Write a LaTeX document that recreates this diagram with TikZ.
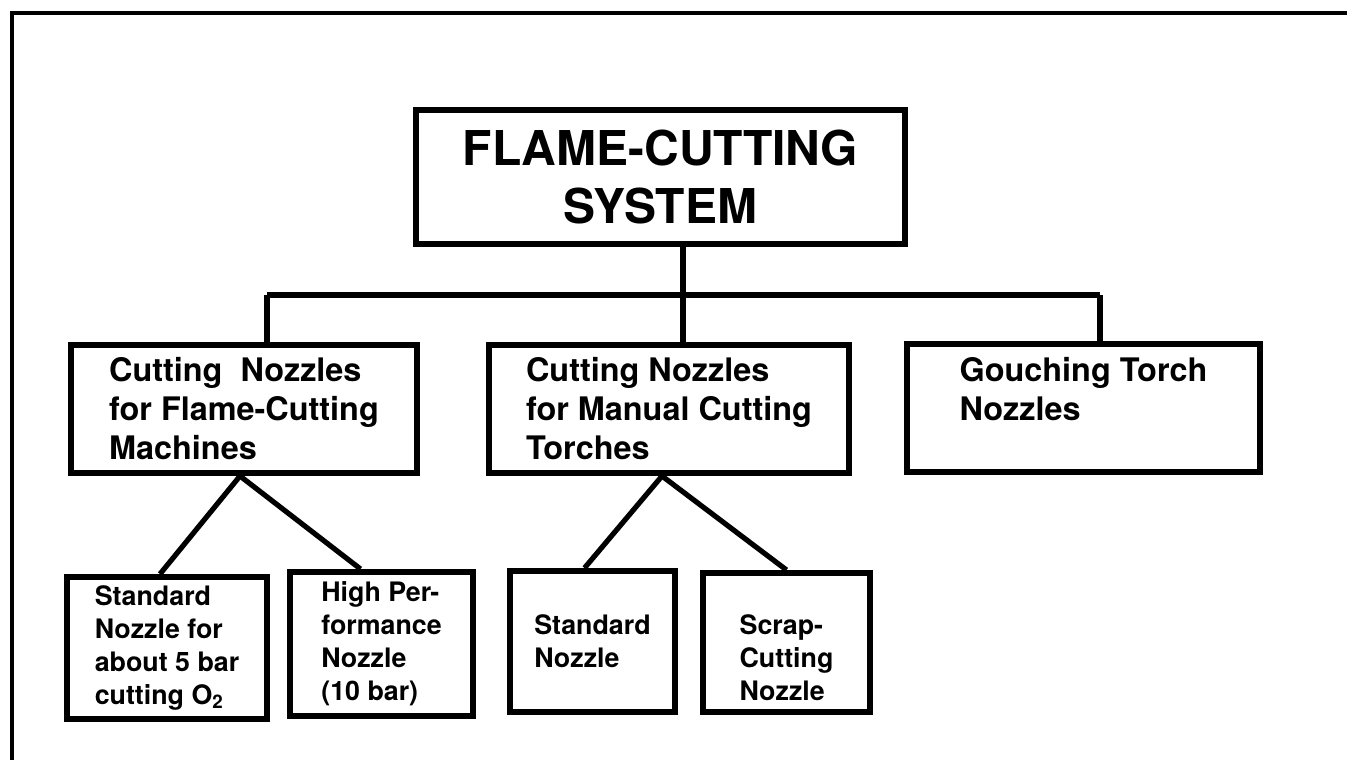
\documentclass[tikz,border=0pt]{standalone}
\usepackage{fontspec}
\setmainfont{TeX Gyre Heros}
\usepackage{tikz}
\usetikzlibrary{positioning,calc}

\begin{document}
\begin{tikzpicture}[
    x=0.5pt, y=-0.5pt,
    rootBox/.style={rectangle, draw=black, line width=3.2pt, align=center, font=\fontsize{24}{28.5}\selectfont\bfseries, inner sep=0pt},
    groupBox/.style={rectangle, draw=black, line width=3pt, align=left, font=\fontsize{16.2}{19.5}\selectfont\bfseries, inner sep=0pt, minimum height=64pt},
    nozzleBox/.style={rectangle, draw=black, line width=3pt, align=left, font=\fontsize{13.4}{16.5}\selectfont\bfseries, inner sep=0pt},
    linkStyle/.style={draw=black, line width=2.6pt},
    frameStyle/.style={draw=black, line width=2pt}
]
    \useasboundingbox (0,0) rectangle (1347,760);

    % outer frame (only top and left edges are visible)
    \draw[frameStyle] (1347,13) -| (12,760);

    \node[rootBox, minimum width=244.5pt, minimum height=67pt] (root) at (660.5,177) {
        FLAME-CUTTING\\
        SYSTEM
    };

    \node[groupBox, minimum width=173pt] (machNoz) at (244,409) {
        Cutting~~Nozzles\\
        for Flame-Cutting\\
        Machines
    };
    \node[groupBox, minimum width=180pt] (manNoz) at (669,409) {
        Cutting Nozzles\\
        for Manual Cutting\\
        Torches
    };
    \node[groupBox, minimum width=176.5pt] (gouNoz) at (1083.5,408) {
        Gouching Torch\\
        Nozzles\\
        \mbox{}
    };

    \node[nozzleBox, minimum width=100pt, minimum height=71pt] (stdFive) at (167,648) {
        Standard\\
        Nozzle for\\
        about 5 bar\\
        cutting O\textsubscript{2}
    };
    \node[nozzleBox, minimum width=91.5pt, minimum height=72pt] (highPerf) at (381.5,644) {
        High Per-\\
        formance\\
        Nozzle\\
        (10 bar)
    };
    \node[nozzleBox, minimum width=82.5pt, minimum height=70.5pt] (stdMan) at (592.5,641.5) {
        Standard\\
        Nozzle
    };
    \node[nozzleBox, minimum width=83.5pt, minimum height=69.5pt] (scrapNoz) at (786.5,642.5) {
        \rule{0pt}{25pt}Scrap-\\
        Cutting\\
        Nozzle
    };

    % bus between first and second level
    \coordinate (busL) at (267,295);
    \coordinate (split) at (683,295);
    \coordinate (busR) at (1100,295);
    \draw[linkStyle] (split |- root.south) -- (split);
    \draw[linkStyle] (busL) -- (busR);
    \draw[linkStyle] (busL) -- (busL |- machNoz.north);
    \draw[linkStyle] (split) -- (split |- manNoz.north);
    \draw[linkStyle] (busR) -- (busR |- gouNoz.north);

    % branches to the single nozzles
    \draw[linkStyle] ([xshift=-2pt]machNoz.south) -- ([xshift=-3.5pt]stdFive.north);
    \draw[linkStyle] ([xshift=-2pt]machNoz.south) -- ([xshift=-10.5pt]highPerf.north);
    \draw[linkStyle] ([xshift=-3.5pt]manNoz.south) -- ([xshift=-4pt]stdMan.north);
    \draw[linkStyle] ([xshift=-3.5pt]manNoz.south) -- (scrapNoz.north);
\end{tikzpicture}
\end{document}
